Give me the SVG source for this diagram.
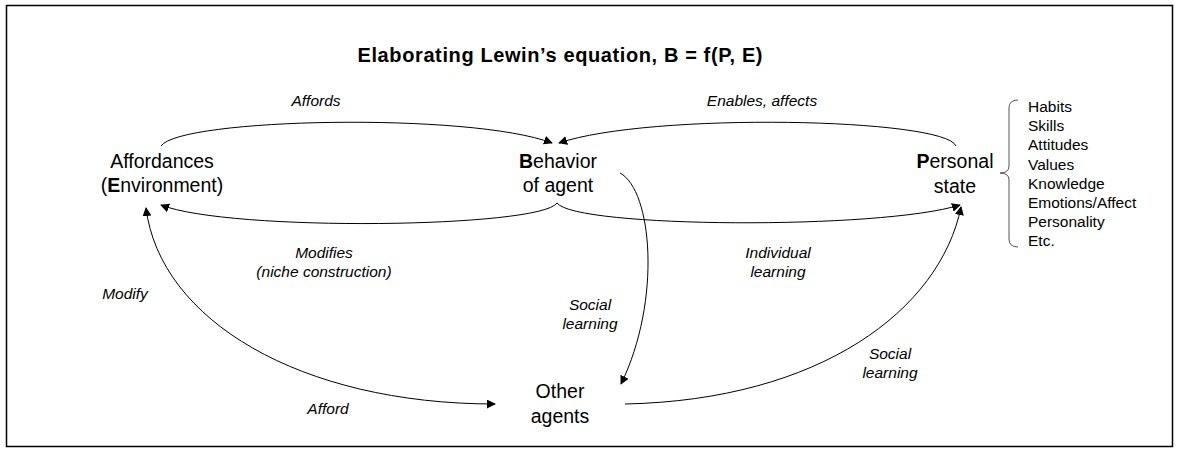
<svg xmlns="http://www.w3.org/2000/svg" width="1178" height="454" viewBox="0 0 1178 454">
<defs>
<marker id="ah" viewBox="0 0 10 10" refX="9" refY="5" markerWidth="9" markerHeight="9" markerUnits="userSpaceOnUse" orient="auto">
<path d="M0,0 L10,5 L0,10 z" fill="#000"/>
</marker>
<marker id="ahs" viewBox="0 0 10 10" refX="9" refY="5" markerWidth="9" markerHeight="9" markerUnits="userSpaceOnUse" orient="auto-start-reverse">
<path d="M0,0 L10,5 L0,10 z" fill="#000"/>
</marker>
<style>
text{font-family:"Liberation Sans",Arial,sans-serif;fill:#000}
.node{font-size:19.5px;text-anchor:middle}
.lbl{font-size:15.5px;font-style:italic;text-anchor:middle}
.list{font-size:15.5px}
.title{font-size:20px;font-weight:bold;text-anchor:middle}
.c{fill:none;stroke:#000;stroke-width:1}
</style>
</defs>
<rect x="6.5" y="5.5" width="1166" height="441" fill="#fff" stroke="#000" stroke-width="1.5"/>
<text class="title" x="560" y="62" textLength="405" lengthAdjust="spacing">Elaborating Lewin’s equation, B = f(P, E)</text>

<g id="connectors">
<path class="c" d="M161,146 C180,118 470,112 552,143" marker-end="url(#ah)"/>
<path class="c" d="M956,146 C945,118 650,112 559,143" marker-end="url(#ah)"/>
<path class="c" d="M557,203 C540,228 230,232 161,205" marker-end="url(#ah)"/>
<path class="c" d="M557,203 C575,228 880,230 960,205" marker-end="url(#ah)"/>
<path class="c" d="M620,173 C652,190 662,300 621,384" marker-end="url(#ah)"/>
<path class="c" d="M146,208 C160,320 300,404 495,404" marker-start="url(#ahs)" marker-end="url(#ah)"/>
<path class="c" d="M625,404 C820,400 940,310 961,207" marker-end="url(#ah)"/>
</g>

<g id="labels">
<text class="lbl" x="316" y="106">Affords</text>
<text class="lbl" x="762" y="106">Enables, affects</text>
<text class="lbl" x="324" y="258">Modifies</text>
<text class="lbl" x="324" y="277">(niche construction)</text>
<text class="lbl" x="778" y="258">Individual</text>
<text class="lbl" x="778" y="277">learning</text>
<text class="lbl" x="125" y="299">Modify</text>
<text class="lbl" x="590" y="310">Social</text>
<text class="lbl" x="590" y="329">learning</text>
<text class="lbl" x="890" y="359">Social</text>
<text class="lbl" x="890" y="378">learning</text>
<text class="lbl" x="328" y="414">Afford</text>
</g>

<g id="node-affordances">
<text class="node" x="162" y="168">Affordances</text>
<text class="node" x="162" y="192">(<tspan font-weight="bold">E</tspan>nvironment)</text>
</g>
<g id="node-behavior">
<text class="node" x="558" y="168"><tspan font-weight="bold">B</tspan>ehavior</text>
<text class="node" x="558" y="192">of agent</text>
</g>
<g id="node-personal">
<text class="node" x="955" y="168"><tspan font-weight="bold">P</tspan>ersonal</text>
<text class="node" x="955" y="193">state</text>
</g>
<g id="node-others">
<text class="node" x="560" y="398">Other</text>
<text class="node" x="560" y="423">agents</text>
</g>
<g id="node-list">
<path d="M1018,100 Q1009,100 1009,108 L1009,166 Q1009,173 1000,173 Q1009,173 1009,180 L1009,239 Q1009,247 1018,247" fill="none" stroke="#555" stroke-width="1"/>
<text class="list" x="1028" y="112">Habits</text>
<text class="list" x="1028" y="131">Skills</text>
<text class="list" x="1028" y="150">Attitudes</text>
<text class="list" x="1028" y="170">Values</text>
<text class="list" x="1028" y="189">Knowledge</text>
<text class="list" x="1028" y="208">Emotions/Affect</text>
<text class="list" x="1028" y="227">Personality</text>
<text class="list" x="1028" y="246">Etc.</text>
</g>
</svg>
